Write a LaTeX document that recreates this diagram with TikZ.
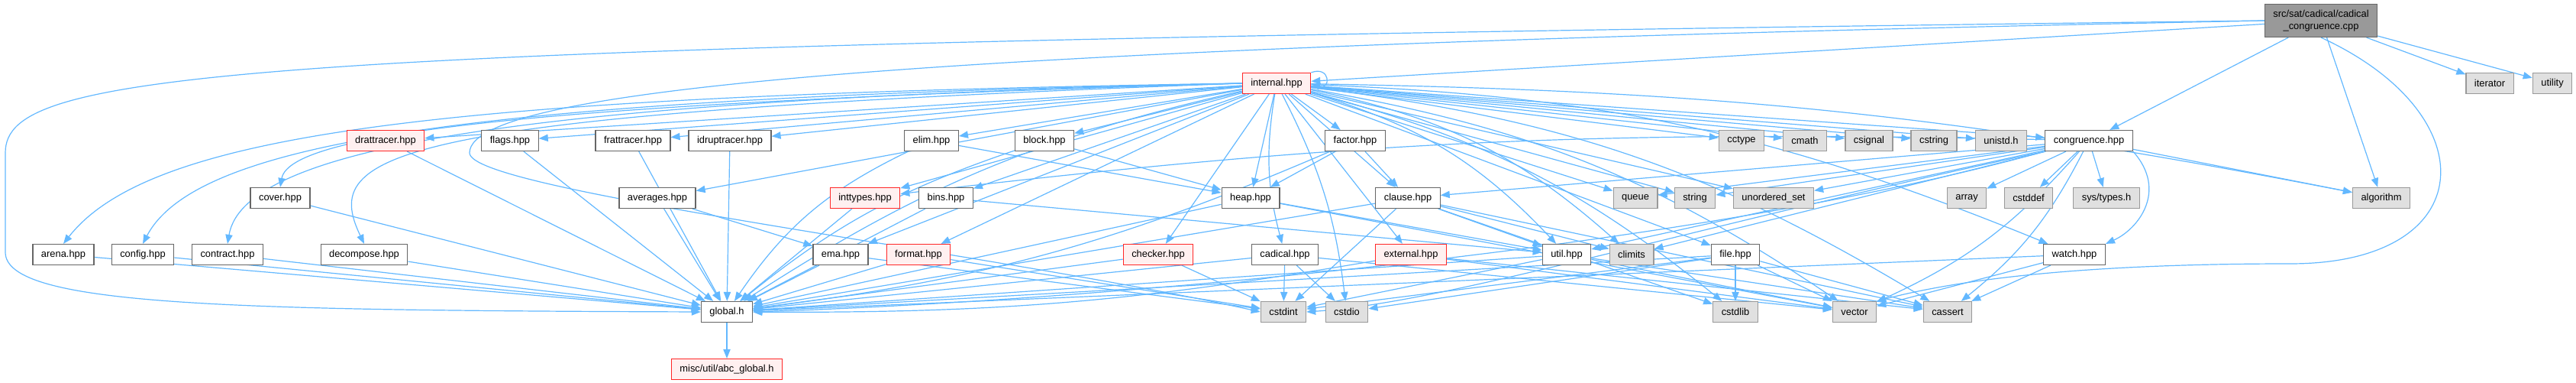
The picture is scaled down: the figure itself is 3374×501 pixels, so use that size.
\documentclass[tikz,border=0pt]{standalone}
\usepackage{fontspec}
\setmainfont{Liberation Sans}
\usetikzlibrary{arrows.meta}
\definecolor{edgeblue}{RGB}{99,184,255}
\definecolor{redfill}{RGB}{255,240,240}
\definecolor{sysfill}{RGB}{224,224,224}
\definecolor{redline}{RGB}{255,40,40}
\pgfdeclarelayer{bg}
\pgfsetlayers{bg,main}
\tikzset{
  hdr/.style={draw=black!60, fill=white, rectangle, line width=0.18mm, minimum height=4.05mm, inner xsep=1.65mm, inner ysep=0pt, font=\fontsize{5.5}{6.6}\selectfont},
  redhdr/.style={hdr, draw=redline, fill=redfill},
  syshdr/.style={hdr, draw=black!40, fill=sysfill},
  roothdr/.style={hdr, draw=black!60, fill=black!40, minimum height=6.45mm, align=center},
  dep/.style={draw=edgeblue, line width=0.18mm, -{Triangle[length=1.8mm,width=1.4mm]}},
}

\begin{document}
\begin{tikzpicture}[x=0.15mm, y=-0.15mm]
\useasboundingbox (0,0) rectangle (3374,501);

% top
\node[roothdr] (src) at (3040,27) {src/sat/cadical/cadical\\\_congruence.cpp};
\node[redhdr] (internal) at (1672,109) {internal.hpp};
\node[syshdr] (iterator) at (3261,109) {iterator};
\node[syshdr] (utility) at (3343,109) {utility};

% second row
\node[redhdr] (drattracer) at (505,184) {drattracer.hpp};
\node[hdr] (flags) at (668,184) {flags.hpp};
\node[hdr] (frattracer) at (829,184) {frattracer.hpp};
\node[hdr] (idruptracer) at (956,184) {idruptracer.hpp};
\node[hdr] (elim) at (1220,184) {elim.hpp};
\node[hdr] (block) at (1368,184) {block.hpp};
\node[hdr] (factor) at (1775,184) {factor.hpp};
\node[syshdr] (cctype) at (2281,184) {cctype};
\node[syshdr] (cmath) at (2364,184) {cmath};
\node[syshdr] (csignal) at (2448,184) {csignal};
\node[syshdr] (cstring) at (2533,184) {cstring};
\node[syshdr] (unistd) at (2621,184) {unistd.h};
\node[hdr] (congruence) at (2736,184) {congruence.hpp};

% third row
\node[hdr] (cover) at (367,259) {cover.hpp};
\node[hdr] (averages) at (861,259) {averages.hpp};
\node[redhdr] (inttypes) at (1133,259) {inttypes.hpp};
\node[hdr] (bins) at (1239,259) {bins.hpp};
\node[hdr] (heap) at (1638,259) {heap.hpp};
\node[hdr] (clause) at (1844,259) {clause.hpp};
\node[syshdr] (queue) at (2142,259) {queue};
\node[syshdr] (string) at (2220,259) {string};
\node[syshdr] (uset) at (2323,259) {unordered\_set};
\node[syshdr] (array) at (2576,259) {array};
\node[syshdr] (cstddef) at (2657,259) {cstddef};
\node[syshdr] (systypes) at (2759,259) {sys/types.h};
\node[syshdr] (algorithm) at (3119,259) {algorithm};

% fourth row
\node[hdr] (arena) at (83,333) {arena.hpp};
\node[hdr] (config) at (187,333) {config.hpp};
\node[hdr] (contract) at (298,333) {contract.hpp};
\node[hdr] (decompose) at (477,333) {decompose.hpp};
\node[hdr] (ema) at (1101,333) {ema.hpp};
\node[redhdr] (format) at (1203,333) {format.hpp};
\node[redhdr] (checker) at (1517,333) {checker.hpp};
\node[hdr] (cadical) at (1683,333) {cadical.hpp};
\node[redhdr] (external) at (1848,333) {external.hpp};
\node[hdr] (util) at (2052,333) {util.hpp};
\node[syshdr] (climits) at (2137,333) {climits};
\node[hdr] (file) at (2273,333) {file.hpp};
\node[hdr] (watch) at (2717,333) {watch.hpp};

% bottom rows
\node[hdr] (global) at (952,408) {global.h};
\node[syshdr] (cstdint) at (1681,408) {cstdint};
\node[syshdr] (cstdio) at (1764,408) {cstdio};
\node[syshdr] (cstdlib) at (2273,408) {cstdlib};
\node[syshdr] (vector) at (2429,408) {vector};
\node[syshdr] (cassert) at (2551,408) {cassert};
\node[redhdr] (abcglobal) at (952,483) {misc/util/abc\_global.h};

\begin{pgfonlayer}{bg}
% from the source file
\draw[dep] (src) -- (internal);
\draw[dep] (src.west) .. controls (300,60) and (7,90) .. (7,200) -- (7,330) .. controls (7,400) and (300,406) .. (global.west);
\draw[dep] (src.west) .. controls (1300,60) and (615,110) .. (615,200) .. controls (615,250) and (1300,330) .. (cstdint.west);
\draw[dep] (src) -- (congruence);
\draw[dep] (src) -- (algorithm);
\draw[dep] (src) -- (iterator);
\draw[dep] (src) -- (utility);
\draw[dep] (src.south) .. controls (3260,150) and (3250,345) .. (3000,345) .. controls (2700,345) and (2550,370) .. (vector.north east);

% from internal.hpp
\draw[dep] (internal.north east) to[out=20, in=-20, looseness=5] (internal.east);
\draw[dep] (internal.west) .. controls (600,125) and (200,170) .. (arena.north);
\draw[dep] (internal.west) .. controls (650,128) and (260,180) .. (config.north);
\draw[dep] (internal.west) .. controls (700,131) and (320,190) .. (contract.north);
\draw[dep] (internal.west) .. controls (750,134) and (380,170) .. (cover.north);
\draw[dep] (internal.west) .. controls (500,150) and (420,200) .. (decompose.north);
\draw[dep] (internal) -- (drattracer);
\draw[dep] (internal) -- (flags);
\draw[dep] (internal) -- (frattracer);
\draw[dep] (internal) -- (idruptracer);
\draw[dep] (internal) -- (elim);
\draw[dep] (internal) -- (block);
\draw[dep] (internal) -- (averages);
\draw[dep] (internal) -- (inttypes);
\draw[dep] (internal) -- (bins);
\draw[dep] (internal) -- (ema);
\draw[dep] (internal) -- (format);
\draw[dep] (internal) to[bend right=10] (global);
\draw[dep] (internal) -- (checker);
\draw[dep] (internal) to[bend right=12] (cadical);
\draw[dep] (internal) -- (heap);
\draw[dep] (internal) -- (factor);
\draw[dep] (internal) -- (clause);
\draw[dep] (internal) -- (external);
\draw[dep] (internal) to[bend left=10] (cstdio);
\draw[dep] (internal) to[bend left=15] (util);
\draw[dep] (internal) to[bend left=15] (climits);
\draw[dep] (internal) -- (file);
\draw[dep] (internal) -- (queue);
\draw[dep] (internal) -- (string);
\draw[dep] (internal) -- (uset);
\draw[dep] (internal) -- (cctype);
\draw[dep] (internal) -- (cmath);
\draw[dep] (internal) -- (csignal);
\draw[dep] (internal) -- (cstring);
\draw[dep] (internal) -- (unistd);
\draw[dep] (internal) -- (congruence);
\draw[dep] (internal) to[bend left=5] (algorithm);
\draw[dep] (internal) to[bend left=10] (watch);
\draw[dep] (internal) to[bend left=12] (cassert);
\draw[dep] (internal) to[bend left=12] (vector);
\draw[dep] (internal) to[bend left=12] (cstdlib);

% from congruence.hpp
\draw[dep] (congruence) -- (array);
\draw[dep] (congruence) -- (cstddef);
\draw[dep] (congruence) -- (systypes);
\draw[dep] (congruence) -- (algorithm);
\draw[dep] (congruence) -- (queue);
\draw[dep] (congruence) -- (string);
\draw[dep] (congruence) -- (uset);
\draw[dep] (congruence) -- (clause);
\draw[dep] (congruence) to[bend right=4] (inttypes);
\draw[dep] (congruence) -- (util);
\draw[dep] (congruence) -- (climits);
\draw[dep] (congruence.south west) .. controls (2200,300) and (1900,395) .. (cstdint.east);
\draw[dep] (congruence.south west) .. controls (2200,330) and (1400,395) .. (global.east);
\draw[dep] (congruence) to[bend left=12] (vector);
\draw[dep] (congruence) to[bend left=12] (cassert);
\draw[dep] (congruence.south east) .. controls (2840,250) and (2800,300) .. (watch.north east);

% second level headers
\draw[dep] (drattracer) -- (global);
\draw[dep] (flags) -- (global);
\draw[dep] (frattracer) -- (global);
\draw[dep] (idruptracer) -- (global);
\draw[dep] (elim) -- (heap);
\draw[dep] (elim) to[bend right=15] (global);
\draw[dep] (block) -- (heap);
\draw[dep] (block) to[bend right=10] (global);
\draw[dep] (factor) -- (heap);
\draw[dep] (factor) -- (clause);
\draw[dep] (factor) to[bend left=8] (global);
\draw[dep] (cover) -- (global);
\draw[dep] (averages) -- (ema);
\draw[dep] (averages) -- (global);
\draw[dep] (inttypes) -- (global);
\draw[dep] (bins) -- (util);
\draw[dep] (bins) -- (global);
\draw[dep] (heap) -- (util);
\draw[dep] (heap) -- (vector);
\draw[dep] (heap) -- (global);
\draw[dep] (clause) -- (util);
\draw[dep] (clause) -- (climits);
\draw[dep] (clause) -- (cstdlib);
\draw[dep] (clause) -- (cassert);
\draw[dep] (clause) -- (cstdint);
\draw[dep] (clause) -- (global);

% lower headers
\draw[dep] (arena) -- (global);
\draw[dep] (config) -- (global);
\draw[dep] (contract) -- (global);
\draw[dep] (decompose) -- (global);
\draw[dep] (ema) -- (global);
\draw[dep] (ema) -- (cstdint);
\draw[dep] (format) -- (global);
\draw[dep] (format) -- (cstdint);
\draw[dep] (checker) -- (global);
\draw[dep] (checker) -- (cstdint);
\draw[dep] (cadical) -- (global);
\draw[dep] (cadical) -- (cstdint);
\draw[dep] (cadical) -- (cstdio);
\draw[dep] (cadical) -- (vector);
\draw[dep] (external) to[bend left=5] (global);
\draw[dep] (external) -- (vector);
\draw[dep] (external) -- (cassert);
\draw[dep] (util) -- (global);
\draw[dep] (util) -- (cstdint);
\draw[dep] (util) -- (vector);
\draw[dep] (util) -- (cassert);
\draw[dep] (file) -- (global);
\draw[dep] (file) -- (cstdint);
\draw[dep] (file) -- (cstdio);
\draw[dep] (file) -- (cstdlib);
\draw[dep] (file) -- (vector);
\draw[dep] (file) -- (cassert);
\draw[dep] (watch) -- (global);
\draw[dep] (watch) -- (vector);
\draw[dep] (watch) -- (cassert);
\draw[dep] (global) -- (abcglobal);
\end{pgfonlayer}

\end{tikzpicture}
\end{document}
